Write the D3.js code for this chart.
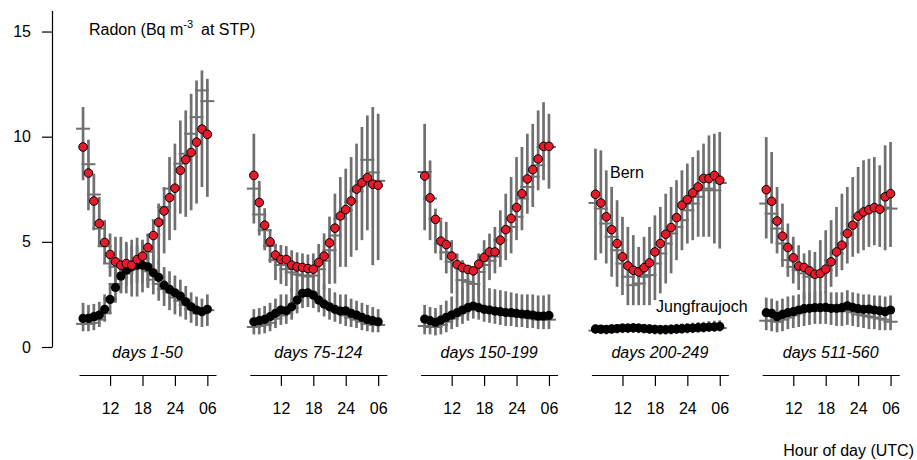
<!DOCTYPE html>
<html>
<head>
<meta charset="utf-8">
<script src="https://cdn.jsdelivr.net/npm/d3@7"></script>
<style>
  body { margin: 0; background: #fff; }
  svg { display: block; font-family: "Liberation Sans", Arial, sans-serif; }
</style>
</head>
<body>
<div id="chart"></div>
<script>
// Hour of day (UTC) for each point, 07 through 06 next day
const hours = [7, 8, 9, 10, 11, 12, 13, 14, 15, 16, 17, 18, 19, 20, 21, 22, 23, 24, 25, 26, 27, 28, 29, 30];
const tickHours = [12, 18, 24, 30];
const tickLabels = ["12", "18", "24", "06"];
const panelLabels = ["days 1-50", "days 75-124", "days 150-199", "days 200-249", "days 511-560"];

// Bern: point value, mean (horizontal tick), low and high of bar
const bernPoint = [
  [9.51, 8.27, 6.94, 5.87, 4.97, 4.40, 4.05, 3.89, 3.97, 3.89, 4.16, 4.32, 4.73, 5.30, 5.93, 6.47, 7.10, 7.55, 8.40, 8.91, 9.25, 9.74, 10.36, 10.11],
  [8.16, 6.87, 5.79, 5.00, 4.37, 4.16, 4.16, 3.89, 3.81, 3.78, 3.73, 3.70, 4.02, 4.32, 4.95, 5.65, 6.23, 6.53, 6.94, 7.51, 7.81, 8.05, 7.74, 7.69],
  [8.13, 7.09, 6.07, 5.03, 4.87, 4.32, 3.92, 3.77, 3.69, 3.62, 3.94, 4.26, 4.52, 4.52, 5.08, 5.58, 6.11, 6.63, 7.29, 7.99, 8.43, 8.94, 9.54, 9.54],
  [7.26, 6.85, 6.19, 5.58, 4.92, 4.29, 3.86, 3.65, 3.57, 3.77, 4.00, 4.52, 4.92, 5.36, 5.68, 6.15, 6.74, 7.01, 7.33, 7.61, 8.01, 8.01, 8.16, 7.93],
  [7.48, 6.93, 5.99, 5.27, 4.73, 4.24, 3.85, 3.78, 3.62, 3.46, 3.50, 3.70, 4.05, 4.52, 4.84, 5.40, 5.79, 6.22, 6.42, 6.53, 6.63, 6.55, 7.14, 7.29]
];
const bernMean = [
  [10.38, 8.69, 7.25, 5.63, 4.79, 3.97, 3.81, 3.50, 3.60, 3.70, 3.90, 4.20, 4.53, 5.32, 6.03, 6.66, 7.53, 7.61, 8.72, 9.19, 10.14, 10.93, 12.20, 11.69],
  [7.53, 6.30, 5.55, 4.80, 4.13, 3.90, 3.70, 3.55, 3.45, 3.40, 3.35, 3.40, 3.70, 4.10, 4.60, 5.30, 6.10, 6.50, 6.90, 7.40, 7.90, 8.90, 8.30, 7.90],
  [8.32, 7.06, 6.10, 4.92, 4.50, 4.05, 4.00, 3.18, 3.10, 3.00, 3.57, 3.90, 4.10, 4.30, 5.08, 5.50, 5.71, 6.19, 7.06, 7.61, 8.10, 8.64, 9.51, 9.51],
  [6.85, 6.58, 5.87, 5.24, 4.60, 3.97, 3.34, 2.94, 3.02, 3.34, 3.42, 3.97, 4.45, 4.92, 5.40, 5.71, 6.03, 6.50, 6.82, 7.14, 7.45, 7.53, 7.45, 7.80],
  [6.82, 6.34, 5.63, 4.92, 4.13, 3.81, 3.65, 3.50, 3.34, 3.34, 3.50, 3.65, 4.13, 4.45, 4.92, 5.40, 5.87, 6.19, 6.42, 6.50, 6.50, 6.50, 6.63, 6.58]
];
const bernLow = [
  [7.93, 6.50, 5.55, 4.76, 3.97, 3.34, 2.71, 2.55, 2.55, 2.40, 2.40, 2.60, 2.86, 3.30, 3.90, 4.45, 5.08, 5.55, 6.34, 6.19, 6.50, 6.82, 7.61, 7.14],
  [5.87, 5.30, 4.60, 4.00, 3.18, 3.00, 2.90, 2.60, 2.40, 2.30, 2.25, 2.30, 2.50, 2.75, 3.00, 3.02, 3.81, 3.81, 4.29, 4.60, 5.08, 5.55, 3.89, 4.13],
  [5.55, 5.08, 4.45, 4.13, 3.50, 2.55, 2.55, 2.23, 1.60, 1.91, 2.39, 2.86, 3.18, 3.50, 3.81, 4.13, 4.45, 5.08, 5.55, 6.34, 6.66, 7.45, 7.93, 7.53],
  [4.13, 4.45, 3.97, 3.34, 2.86, 2.47, 1.99, 1.99, 1.99, 1.99, 1.99, 2.23, 2.55, 3.02, 3.50, 4.13, 4.60, 4.92, 5.08, 5.24, 5.24, 5.24, 4.92, 4.68],
  [5.16, 4.92, 4.45, 3.81, 3.34, 3.02, 2.71, 2.23, 1.91, 1.76, 2.15, 2.55, 2.86, 3.34, 3.65, 3.97, 4.29, 4.45, 4.60, 4.76, 4.84, 4.76, 4.60, 4.76]
];
const bernHigh = [
  [11.41, 9.86, 8.24, 7.14, 6.03, 5.40, 5.24, 5.24, 4.90, 4.80, 4.84, 5.00, 5.40, 6.00, 6.82, 7.60, 9.03, 9.67, 10.77, 11.25, 12.04, 12.67, 13.15, 12.75],
  [10.14, 7.90, 6.60, 5.60, 4.92, 4.85, 4.80, 4.60, 4.50, 4.45, 4.40, 4.45, 4.90, 5.40, 6.20, 7.29, 8.08, 8.48, 9.03, 9.67, 10.46, 11.01, 11.41, 11.09],
  [10.61, 8.87, 6.58, 6.03, 5.95, 5.08, 4.45, 4.13, 3.89, 3.81, 4.45, 5.08, 5.39, 5.71, 6.50, 7.29, 8.08, 9.03, 9.51, 10.14, 10.61, 11.25, 11.64, 11.09],
  [9.43, 9.35, 8.40, 7.61, 6.98, 6.19, 5.71, 5.32, 4.76, 5.24, 5.71, 6.26, 6.66, 7.29, 7.61, 7.93, 8.40, 8.72, 9.03, 9.35, 9.67, 10.06, 10.14, 10.22],
  [9.98, 9.27, 7.61, 6.82, 5.87, 5.24, 4.84, 4.45, 4.60, 4.52, 5.08, 5.55, 6.03, 6.66, 7.29, 7.61, 8.08, 8.56, 8.88, 8.95, 9.03, 8.64, 9.59, 9.75]
];

// Jungfraujoch: point value, mean (horizontal tick), low and high of bar
const jfjPoint = [
  [1.36, 1.36, 1.44, 1.52, 1.79, 2.26, 2.83, 3.37, 3.65, 3.81, 3.89, 3.89, 3.81, 3.53, 3.31, 2.94, 2.74, 2.58, 2.42, 2.15, 1.91, 1.76, 1.68, 1.79],
  [1.20, 1.25, 1.31, 1.44, 1.60, 1.76, 1.72, 1.91, 2.23, 2.55, 2.58, 2.47, 2.23, 2.04, 1.91, 1.79, 1.71, 1.72, 1.60, 1.52, 1.41, 1.31, 1.25, 1.20],
  [1.33, 1.25, 1.17, 1.28, 1.41, 1.52, 1.63, 1.76, 1.87, 1.95, 1.87, 1.79, 1.76, 1.71, 1.68, 1.64, 1.63, 1.60, 1.57, 1.55, 1.52, 1.47, 1.47, 1.50],
  [0.86, 0.85, 0.84, 0.86, 0.88, 0.90, 0.90, 0.91, 0.90, 0.88, 0.86, 0.84, 0.83, 0.83, 0.84, 0.86, 0.87, 0.89, 0.90, 0.92, 0.93, 0.95, 0.96, 0.98],
  [1.63, 1.60, 1.44, 1.55, 1.63, 1.68, 1.76, 1.82, 1.84, 1.87, 1.87, 1.88, 1.84, 1.84, 1.87, 1.96, 1.88, 1.82, 1.79, 1.80, 1.76, 1.72, 1.68, 1.76]
];
const jfjMean = [
  [1.10, 1.10, 1.15, 1.30, 1.60, 2.30, 3.00, 3.30, 3.50, 3.75, 3.80, 3.75, 3.60, 3.20, 3.00, 2.75, 2.60, 2.35, 2.20, 2.00, 1.80, 1.60, 1.60, 1.75],
  [0.95, 1.00, 1.05, 1.15, 1.35, 1.50, 1.60, 1.85, 2.20, 2.50, 2.55, 2.45, 2.25, 2.05, 1.90, 1.75, 1.60, 1.50, 1.40, 1.30, 1.20, 1.10, 1.05, 1.05],
  [1.00, 0.95, 0.95, 1.05, 1.20, 1.35, 1.50, 1.65, 1.80, 1.90, 1.85, 1.75, 1.70, 1.65, 1.60, 1.55, 1.50, 1.45, 1.45, 1.40, 1.35, 1.30, 1.30, 1.30],
  [0.78, 0.77, 0.76, 0.78, 0.80, 0.82, 0.82, 0.83, 0.82, 0.80, 0.78, 0.76, 0.75, 0.75, 0.76, 0.78, 0.79, 0.81, 0.82, 0.84, 0.85, 0.87, 0.88, 0.90],
  [1.25, 1.25, 1.20, 1.30, 1.40, 1.50, 1.60, 1.70, 1.75, 1.80, 1.80, 1.80, 1.75, 1.70, 1.70, 1.75, 1.65, 1.55, 1.50, 1.45, 1.40, 1.35, 1.30, 1.20]
];
const jfjLow = [
  [0.75, 0.75, 0.80, 0.95, 1.20, 1.60, 2.10, 2.60, 2.90, 3.00, 3.05, 3.00, 2.80, 2.50, 2.20, 1.95, 1.75, 1.55, 1.45, 1.30, 1.15, 1.00, 0.95, 1.00],
  [0.60, 0.60, 0.65, 0.75, 0.90, 1.05, 1.10, 1.30, 1.60, 1.85, 1.90, 1.85, 1.65, 1.45, 1.30, 1.20, 1.10, 1.00, 0.95, 0.90, 0.80, 0.75, 0.70, 0.70],
  [0.60, 0.60, 0.55, 0.60, 0.70, 0.85, 0.95, 1.10, 1.25, 1.35, 1.30, 1.20, 1.15, 1.10, 1.05, 1.00, 1.00, 0.95, 0.95, 0.90, 0.90, 0.85, 0.85, 0.85],
  [0.62, 0.61, 0.60, 0.62, 0.64, 0.66, 0.66, 0.67, 0.66, 0.64, 0.62, 0.60, 0.59, 0.59, 0.60, 0.62, 0.63, 0.65, 0.66, 0.68, 0.69, 0.71, 0.72, 0.74],
  [0.80, 0.75, 0.70, 0.75, 0.85, 0.90, 0.95, 1.00, 1.05, 1.10, 1.10, 1.10, 1.05, 1.00, 1.00, 1.05, 1.00, 0.95, 0.90, 0.85, 0.85, 0.80, 0.80, 0.80]
];
const jfjHigh = [
  [2.10, 2.00, 2.05, 2.15, 2.50, 3.00, 3.70, 4.60, 5.00, 5.10, 5.20, 5.10, 4.80, 4.40, 4.10, 3.80, 3.60, 3.40, 3.20, 2.90, 2.60, 2.40, 2.30, 2.50],
  [1.80, 1.85, 1.95, 2.10, 2.30, 2.50, 2.50, 2.80, 3.20, 3.50, 3.55, 3.40, 3.20, 3.00, 2.80, 2.60, 2.50, 2.50, 2.30, 2.20, 2.10, 2.00, 1.90, 1.80],
  [2.00, 1.90, 1.85, 2.00, 2.20, 2.40, 2.60, 2.80, 3.00, 3.10, 3.00, 2.90, 2.80, 2.75, 2.70, 2.65, 2.60, 2.55, 2.50, 2.50, 2.50, 2.45, 2.45, 2.50],
  [1.06, 1.05, 1.04, 1.07, 1.09, 1.12, 1.12, 1.13, 1.12, 1.10, 1.08, 1.06, 1.05, 1.06, 1.08, 1.10, 1.12, 1.14, 1.16, 1.18, 1.20, 1.23, 1.25, 1.27],
  [2.35, 2.30, 2.20, 2.30, 2.40, 2.45, 2.50, 2.60, 2.60, 2.65, 2.65, 2.65, 2.60, 2.60, 2.60, 2.70, 2.60, 2.55, 2.50, 2.50, 2.45, 2.45, 2.40, 2.45]
];

document.addEventListener("DOMContentLoaded", function () {
  const width = 917;
  const height = 460;
  const panelStep = 170.8;
  const barColor = "#707070";
  const font = "'Liberation Sans', Arial, sans-serif";

  const svg = d3.select("#chart")
    .append("svg")
    .attr("width", width)
    .attr("height", height);

  // shared y scale (axis runs up to 16, ticks stop at 15)
  const y = d3.scaleLinear()
    .domain([0, 16])
    .range([347, 10.5]);

  const yAxis = svg.append("g")
    .attr("transform", "translate(52,0)")
    .call(d3.axisLeft(y).tickValues([0, 5, 10, 15]).tickSize(10).tickSizeOuter(0).tickPadding(11))
    .attr("font-size", 16)
    .attr("font-family", font);
  yAxis.selectAll("line, path").attr("stroke-width", 1.2);

  panelLabels.forEach((label, p) => {
    const x0 = 79 + p * panelStep;
    const x = d3.scaleLinear()
      .domain([6.25, 31.6])
      .range([x0, x0 + 137]);

    const g = svg.append("g");

    // error bars for both sites
    const drawBars = (lo, hi) => {
      g.selectAll(null)
        .data(hours.map((h, i) => ({ h, lo: lo[p][i], hi: hi[p][i] })))
        .enter()
        .append("line")
        .attr("x1", d => x(d.h))
        .attr("x2", d => x(d.h))
        .attr("y1", d => y(d.lo))
        .attr("y2", d => y(d.hi))
        .attr("stroke", barColor)
        .attr("stroke-width", 2.7);
    };
    const drawTicks = (mean) => {
      g.selectAll(null)
        .data(hours.map((h, i) => ({ h, v: mean[p][i] })))
        .enter()
        .append("line")
        .attr("x1", d => x(d.h) - 7)
        .attr("x2", d => x(d.h) + 7)
        .attr("y1", d => y(d.v))
        .attr("y2", d => y(d.v))
        .attr("stroke", barColor)
        .attr("stroke-width", 2);
    };
    drawBars(bernLow, bernHigh);
    drawBars(jfjLow, jfjHigh);
    drawTicks(bernMean);
    drawTicks(jfjMean);

    // Jungfraujoch points (black)
    g.selectAll(null)
      .data(hours.map((h, i) => ({ h, v: jfjPoint[p][i] })))
      .enter()
      .append("circle")
      .attr("cx", d => x(d.h))
      .attr("cy", d => y(d.v))
      .attr("r", 4.6)
      .attr("fill", "#000");

    // Bern points (red)
    g.selectAll(null)
      .data(hours.map((h, i) => ({ h, v: bernPoint[p][i] })))
      .enter()
      .append("circle")
      .attr("cx", d => x(d.h))
      .attr("cy", d => y(d.v))
      .attr("r", 4.3)
      .attr("fill", "#e31b2b")
      .attr("stroke", "#000")
      .attr("stroke-width", 1);

    // panel x axis
    const xAxis = svg.append("g")
      .attr("transform", "translate(0,375)")
      .call(d3.axisBottom(x).tickValues(tickHours).tickFormat((d, i) => tickLabels[i]).tickSize(11).tickSizeOuter(0).tickPadding(17))
      .attr("font-size", 16)
      .attr("font-family", font);
    xAxis.selectAll("line, path").attr("stroke-width", 1.2);

    // period label
    svg.append("text")
      .attr("x", x0 + 68.5)
      .attr("y", 358)
      .attr("text-anchor", "middle")
      .attr("font-size", 16)
      .attr("font-style", "italic")
      .attr("font-family", font)
      .text(label);
  });

  // y label in top-left corner
  const title = svg.append("text")
    .attr("x", 89)
    .attr("y", 35)
    .attr("font-size", 16)
    .attr("font-family", font);
  title.append("tspan").text("Radon (Bq m");
  title.append("tspan").attr("font-size", 11).attr("dy", -7).text("-3");
  title.append("tspan").attr("dy", 7).attr("dx", 8).text("at STP)");

  svg.append("text")
    .attr("x", 610)
    .attr("y", 178)
    .attr("font-size", 16)
    .attr("font-family", font)
    .text("Bern");

  svg.append("text")
    .attr("x", 656)
    .attr("y", 312)
    .attr("font-size", 16)
    .attr("font-family", font)
    .text("Jungfraujoch");

  svg.append("text")
    .attr("x", 914)
    .attr("y", 456)
    .attr("text-anchor", "end")
    .attr("font-size", 16)
    .attr("font-family", font)
    .text("Hour of day (UTC)");
});
</script>
</body>
</html>
